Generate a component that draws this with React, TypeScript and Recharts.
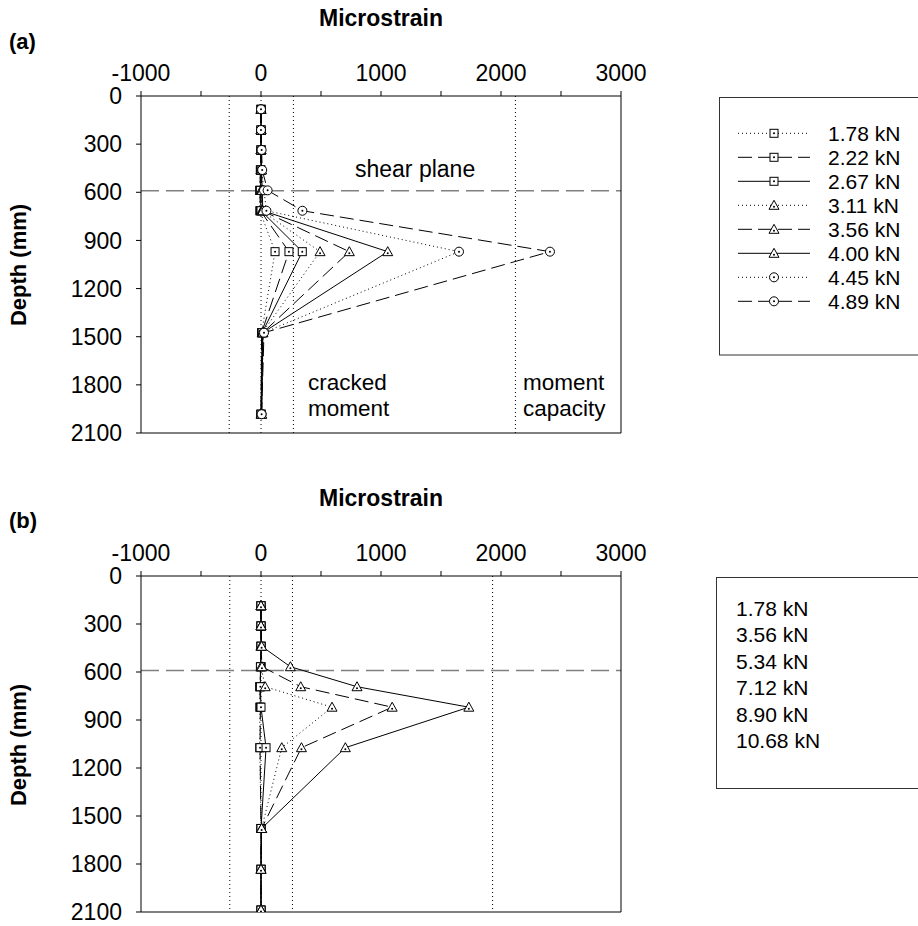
import React from "react";
import { ScatterChart, Scatter, XAxis, YAxis, ReferenceLine } from "recharts";

const X_TICKS = [-1000, -500, 0, 500, 1000, 1500, 2000, 2500, 3000];
const Y_TICKS = [0, 300, 600, 900, 1200, 1500, 1800, 2100];

// panel (a): depth of gauges (mm) and microstrain per load step
const DEPTH_A = [83, 212, 336, 461, 588, 715, 970, 1475, 1983];
const LOADS_A = ["1.78 kN", "2.22 kN", "2.67 kN", "3.11 kN", "3.56 kN", "4.00 kN", "4.45 kN", "4.89 kN"];
const A_178 = [0, 0, 0, -5, -10, -10, 117, 5, 0];
const A_222 = [0, 0, 0, -5, -10, -5, 233, 5, 0];
const A_267 = [0, 0, 0, 0, -5, 0, 344, 10, 0];
const A_311 = [0, 0, 0, 0, 0, 5, 492, 10, 0];
const A_356 = [0, 0, 0, 0, 5, 10, 736, 15, 5];
const A_400 = [0, 0, 0, 5, 10, 15, 1056, 15, 5];
const A_445 = [0, 0, 0, 5, 25, 45, 1650, 20, 5];
const A_489 = [0, 0, 5, 10, 55, 345, 2408, 25, 5];

// panel (b)
const DEPTH_B = [186, 312, 439, 567, 692, 820, 1073, 1578, 1833, 2088];
const LOADS_B = ["1.78 kN", "3.56 kN", "5.34 kN", "7.12 kN", "8.90 kN", "10.68 kN"];
const B_178 = [0, 0, 0, 0, -10, -10, -10, 0, 0, 0];
const B_356 = [0, 0, 0, 0, -10, -5, -8, 0, 0, 0];
const B_534 = [0, 0, 0, -5, -5, 0, 42, 0, 0, 0];
const B_712 = [0, 0, 0, 0, 35, 592, 173, 5, 0, 0];
const B_890 = [0, 0, 0, 8, 331, 1093, 337, 5, 0, 0];
const B_1068 = [0, 0, 5, 245, 800, 1732, 703, 5, 0, 0];

const SHEAR_PLANE = 590;
const CRACK_A = [-265, 270];
const CAPACITY_A = 2120;
const CRACK_B = [-260, 262];
const CAPACITY_B = 1930;

const DOT = "1 3";
const DASH = "14 6";
const FONT = 'Arial, "Liberation Sans", sans-serif';

type Kind = "square" | "triangle" | "circle";

const SERIES_A: { name: string; vals: number[]; kind: Kind; dash?: string }[] = [
  { name: LOADS_A[0], vals: A_178, kind: "square", dash: DOT },
  { name: LOADS_A[1], vals: A_222, kind: "square", dash: DASH },
  { name: LOADS_A[2], vals: A_267, kind: "square" },
  { name: LOADS_A[3], vals: A_311, kind: "triangle", dash: DOT },
  { name: LOADS_A[4], vals: A_356, kind: "triangle", dash: DASH },
  { name: LOADS_A[5], vals: A_400, kind: "triangle" },
  { name: LOADS_A[6], vals: A_445, kind: "circle", dash: DOT },
  { name: LOADS_A[7], vals: A_489, kind: "circle", dash: DASH },
];

const SERIES_B: { name: string; vals: number[]; kind: Kind; dash?: string }[] = [
  { name: LOADS_B[0], vals: B_178, kind: "square", dash: DOT },
  { name: LOADS_B[1], vals: B_356, kind: "square", dash: DASH },
  { name: LOADS_B[2], vals: B_534, kind: "square" },
  { name: LOADS_B[3], vals: B_712, kind: "triangle", dash: DOT },
  { name: LOADS_B[4], vals: B_890, kind: "triangle", dash: DASH },
  { name: LOADS_B[5], vals: B_1068, kind: "triangle" },
];

function Marker({ cx, cy, kind }: { cx: number; cy: number; kind: Kind }) {
  if (kind === "square") {
    return (
      <g>
        <rect x={cx - 4} y={cy - 4} width={8} height={8} fill="#fff" stroke="#000" strokeWidth={1} />
        <circle cx={cx} cy={cy} r={1} fill="#000" />
      </g>
    );
  }
  if (kind === "triangle") {
    return (
      <g>
        <path d={`M${cx},${cy - 5} L${cx + 5},${cy + 4} L${cx - 5},${cy + 4} Z`} fill="#fff" stroke="#000" strokeWidth={1} />
        <circle cx={cx} cy={cy + 1.5} r={1} fill="#000" />
      </g>
    );
  }
  return (
    <g>
      <circle cx={cx} cy={cy} r={4.5} fill="#fff" stroke="#000" strokeWidth={1} />
      <circle cx={cx} cy={cy} r={1} fill="#000" />
    </g>
  );
}

function Panel({ series, depths, crack, capacity, height, bottom }: {
  series: typeof SERIES_A; depths: number[]; crack: number[]; capacity: number; height: number; bottom: number;
}) {
  return (
    <ScatterChart width={918} height={height} margin={{ top: 56, left: 81, right: 297, bottom }}>
      <XAxis type="number" dataKey="x" orientation="top" domain={[-1000, 3000]} ticks={X_TICKS} interval={0}
        tickFormatter={(v) => (v % 1000 === 0 ? String(v) : "")} tick={{ fontSize: 23, fill: "#000" }}
        tickSize={5} tickMargin={10} height={40} stroke="#000" allowDataOverflow />
      <YAxis type="number" dataKey="y" reversed domain={[0, 2100]} ticks={Y_TICKS} interval={0} width={60}
        tick={{ fontSize: 23, fill: "#000" }} tickSize={5} tickMargin={14} stroke="#000" allowDataOverflow />
      <ReferenceLine x={crack[0]} stroke="#000" strokeDasharray="1 3" />
      <ReferenceLine x={0} stroke="#000" strokeDasharray="1 3" />
      <ReferenceLine x={crack[1]} stroke="#000" strokeDasharray="1 3" />
      <ReferenceLine x={capacity} stroke="#000" strokeDasharray="1 3" />
      <ReferenceLine y={SHEAR_PLANE} stroke="#808080" strokeWidth={1.5} strokeDasharray="18 7" />
      <ReferenceLine x={3000} stroke="#000" />
      <ReferenceLine y={2100} stroke="#000" />
      {series.map((s) => (
        <Scatter key={s.name} name={s.name} data={depths.map((d, i) => ({ x: s.vals[i], y: d }))}
          fill="#000" line={{ stroke: "#000", strokeWidth: 1, strokeDasharray: s.dash }} lineType="joint"
          shape={(p: any) => <Marker cx={p.cx} cy={p.cy} kind={s.kind} />} isAnimationActive={false} />
      ))}
    </ScatterChart>
  );
}

export default function App() {
  return (
    <div style={{ position: "absolute", left: 0, top: 0, width: 918, height: 926, overflow: "hidden", background: "#fff", fontFamily: FONT }}>
      <div style={{ position: "absolute", left: 0, top: 0 }}>
        <Panel series={SERIES_A} depths={DEPTH_A} crack={CRACK_A} capacity={CAPACITY_A} height={460} bottom={27} />
      </div>
      <div style={{ position: "absolute", left: 0, top: 480 }}>
        <Panel series={SERIES_B} depths={DEPTH_B} crack={CRACK_B} capacity={CAPACITY_B} height={446} bottom={14} />
      </div>
      <svg width={918} height={926} style={{ position: "absolute", left: 0, top: 0, pointerEvents: "none" }} fontFamily={FONT}>
        {/* titles */}
        <text x={381} y={26} textAnchor="middle" fontSize={23} fontWeight="bold">Microstrain</text>
        <text x={381} y={506} textAnchor="middle" fontSize={23} fontWeight="bold">Microstrain</text>
        <text x={9} y={49} fontSize={22} fontWeight="bold">(a)</text>
        <text x={9} y={528} fontSize={22} fontWeight="bold">(b)</text>
        <text transform="translate(26,265) rotate(-90)" textAnchor="middle" fontSize={22} fontWeight="bold">Depth (mm)</text>
        <text transform="translate(26,745) rotate(-90)" textAnchor="middle" fontSize={22} fontWeight="bold">Depth (mm)</text>
        {/* annotations */}
        <text x={355} y={177} fontSize={23}>shear plane</text>
        <text x={308} y={389.5} fontSize={22.5}>cracked</text>
        <text x={308} y={415.5} fontSize={22.5}>moment</text>
        <text x={523} y={389.5} fontSize={22.5}>moment</text>
        <text x={523} y={415.5} fontSize={22.5}>capacity</text>
        {/* legend (a) */}
        <rect x={719.5} y={97.5} width={220} height={257.5} fill="#fff" stroke="#333" />
        {SERIES_A.map((s, i) => {
          const cy = 133.3 + 24 * i;
          return (
            <g key={s.name}>
              <line x1={738} x2={810} y1={cy} y2={cy} stroke="#000" strokeDasharray={s.dash} />
              <Marker cx={774} cy={cy} kind={s.kind} />
              <text x={828} y={cy + 7.5} fontSize={21}>{s.name}</text>
            </g>
          );
        })}
        {/* legend (b) */}
        <rect x={716.5} y={577.5} width={220} height={211} fill="#fff" stroke="#333" />
        {SERIES_B.map((s, i) => (
          <text key={s.name} x={736} y={608.5 + 26.4 * i + 7.5} fontSize={21}>{s.name}</text>
        ))}
      </svg>
    </div>
  );
}
